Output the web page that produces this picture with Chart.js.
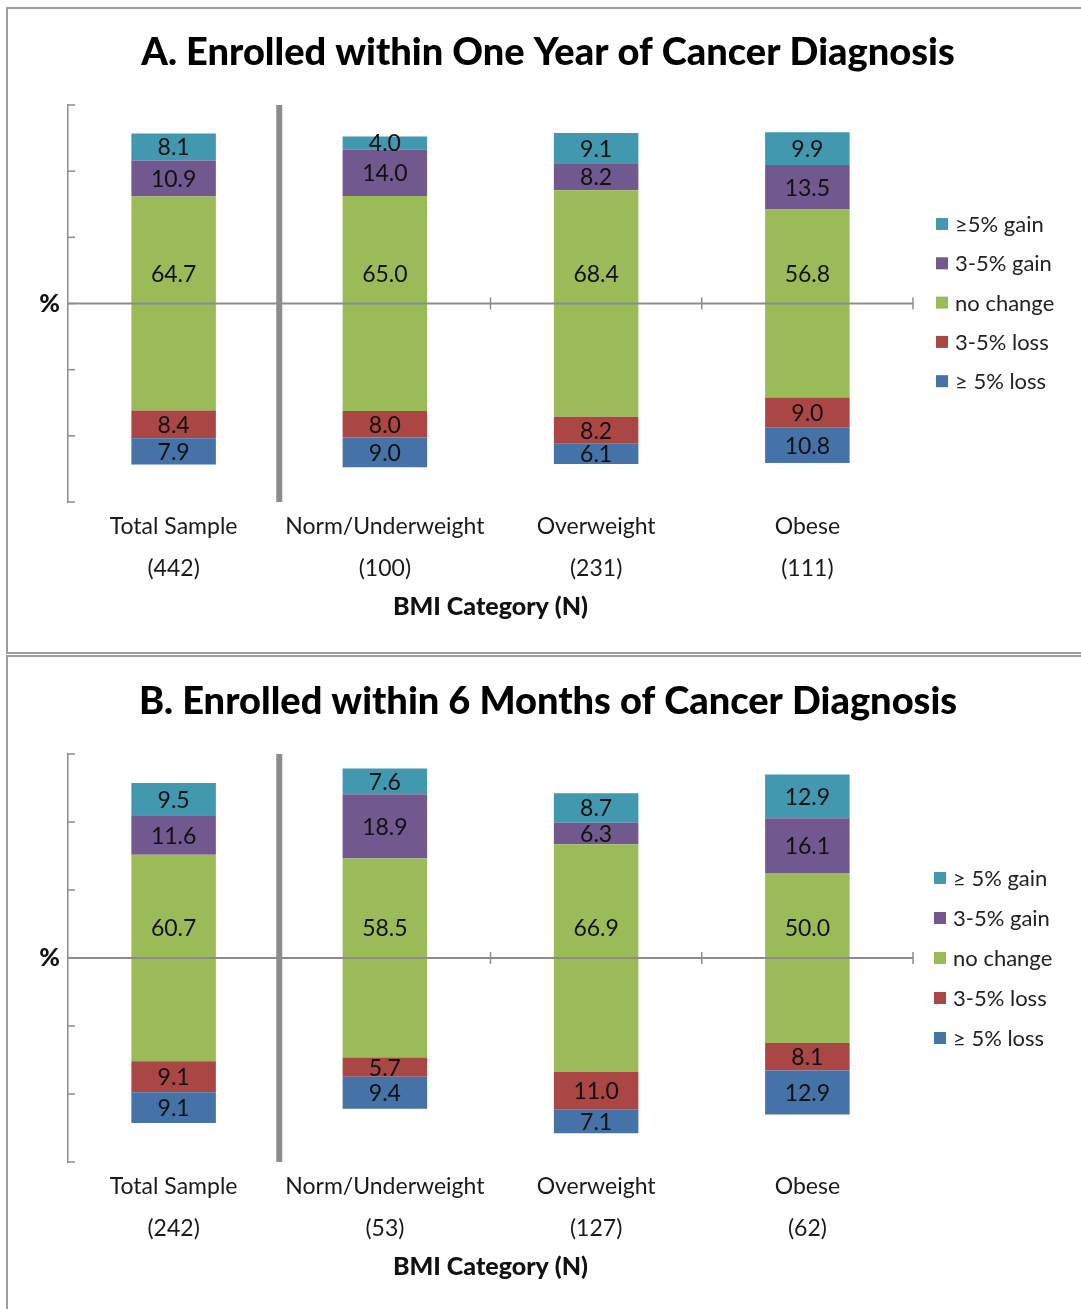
<!DOCTYPE html>
<html>
<head>
<meta charset="utf-8">
<script src="https://cdn.jsdelivr.net/npm/chart.js@4.4.1/dist/chart.umd.min.js"></script>
<style>
  body { margin: 0; background: #fff; width: 1081px; height: 1309px; position: relative; overflow: hidden; font-family: Lato, sans-serif; }
  .panel { position: absolute; left: 6px; width: 1100px; border: 2px solid #9c9c9c; box-sizing: border-box; }
  #panel-a { top: 7px; height: 647px; }
  #panel-b { top: 655px; height: 700px; }
  canvas { position: absolute; left: 0; }
  #chart-a { top: 0; }
  #chart-b { top: 654px; }
</style>
</head>
<body>
<div class="panel" id="panel-a"></div>
<div class="panel" id="panel-b"></div>
<canvas id="chart-a" width="1081" height="654"></canvas>
<canvas id="chart-b" width="1081" height="655"></canvas>
<script>
// categorias e N de cada painel
const categories = ['Total Sample', 'Norm/Underweight', 'Overweight', 'Obese'];
const countsA = ['(442)', '(100)', '(231)', '(111)'];
const countsB = ['(242)', '(53)', '(127)', '(62)'];

// legendas (de cima para baixo)
const legendA = ['≥5% gain', '3-5% gain', 'no change', '3-5% loss', '≥ 5% loss'];
const legendB = ['≥ 5% gain', '3-5% gain', 'no change', '3-5% loss', '≥ 5% loss'];

// A. dentro de um ano do diagnóstico
const gainBigA = [8.1, 4.0, 9.1, 9.9];
const gainSmallA = [10.9, 14.0, 8.2, 13.5];
const noChangeA = [64.7, 65.0, 68.4, 56.8];
const lossSmallA = [8.4, 8.0, 8.2, 9.0];
const lossBigA = [7.9, 9.0, 6.1, 10.8];

// B. dentro de 6 meses do diagnóstico
const gainBigB = [9.5, 7.6, 8.7, 12.9];
const gainSmallB = [11.6, 18.9, 6.3, 16.1];
const noChangeB = [60.7, 58.5, 66.9, 50.0];
const lossSmallB = [9.1, 5.7, 11.0, 8.1];
const lossBigB = [9.1, 9.4, 7.1, 12.9];

const colors = {
    gainBig: '#4198AF',
    gainSmall: '#71588F',
    noChange: '#9BBB59',
    lossSmall: '#AA4643',
    lossBig: '#4572A7'
};

const FONT = 'Lato, sans-serif';

// "no change" fica centrado no zero, perdas para baixo e ganhos para cima
function floatingRanges(noChange, lossSmall, lossBig, gainSmall, gainBig) {
    const half = noChange.map(v => v / 2);
    return {
        lossBig: half.map((h, i) => [-h - lossSmall[i] - lossBig[i], -h - lossSmall[i]]),
        lossSmall: half.map((h, i) => [-h - lossSmall[i], -h]),
        noChange: half.map(h => [-h, h]),
        gainSmall: half.map((h, i) => [h, h + gainSmall[i]]),
        gainBig: half.map((h, i) => [h + gainSmall[i], h + gainSmall[i] + gainBig[i]])
    };
}

const panelDecor = {
    id: 'panelDecor',
    afterDatasetsDraw(chart, args, opts) {
        const { ctx, chartArea: area, scales: { x, y } } = chart;
        const y0 = y.getPixelForValue(0);
        const half = (x.getPixelForValue(1) - x.getPixelForValue(0)) / 2;
        ctx.save();
        ctx.strokeStyle = '#8c8c8c';

        // linha do zero
        ctx.lineWidth = 2;
        ctx.beginPath();
        ctx.moveTo(area.left, y0);
        ctx.lineTo(area.right, y0);
        ctx.stroke();

        // marcas entre categorias
        ctx.lineWidth = 1.5;
        for (let i = 1; i < categories.length; i++) {
            const bx = x.getPixelForValue(i) + half;
            ctx.beginPath();
            ctx.moveTo(bx, y0 - 6);
            ctx.lineTo(bx, y0 + 6);
            ctx.stroke();
        }

        // marcas do eixo y (para dentro)
        y.ticks.forEach(t => {
            const py = y.getPixelForValue(t.value);
            ctx.beginPath();
            ctx.moveTo(area.left, py);
            ctx.lineTo(area.left + 7, py);
            ctx.stroke();
        });

        // separador grosso depois de "Total Sample"
        const sx = x.getPixelForValue(0) + half;
        ctx.lineWidth = 6;
        ctx.beginPath();
        ctx.moveTo(sx, area.top);
        ctx.lineTo(sx, area.bottom);
        ctx.stroke();

        // valores dentro das barras (o do "no change" fica acima da linha do zero)
        ctx.fillStyle = '#111';
        ctx.font = '23px ' + FONT;
        ctx.textAlign = 'center';
        ctx.textBaseline = 'middle';
        chart.data.datasets.forEach((ds, di) => {
            const lift = ds.key === 'noChange' ? -30 : 0;
            chart.getDatasetMeta(di).data.forEach((bar, i) => {
                ctx.fillText(ds.values[i].toFixed(1), bar.x, (bar.y + bar.base) / 2 + 1 + lift);
            });
        });

        // legenda
        ctx.textAlign = 'left';
        ctx.font = '22px ' + FONT;
        const ordered = chart.data.datasets.slice().reverse();
        ordered.forEach((ds, i) => {
            const ly = opts.legendY + i * opts.legendGap;
            ctx.fillStyle = ds.backgroundColor;
            ctx.fillRect(opts.legendX, ly - 6, 12, 12);
            ctx.fillStyle = '#222';
            ctx.fillText(opts.legendNames[i], opts.legendX + 19, ly + 1);
        });

        // título
        ctx.fillStyle = '#000';
        ctx.font = '900 38px ' + FONT;
        ctx.textAlign = 'center';
        ctx.fillText(opts.title, opts.titleX, opts.titleY);
        ctx.restore();
    }
};

function makeChart(id, counts, ranges, values, decor, padTop, padBottom) {
    const order = ['lossBig', 'lossSmall', 'noChange', 'gainSmall', 'gainBig'];
    const datasets = order.map((key, i) => ({
        key: key,
        label: decor.legendNames[4 - i],
        data: ranges[key],
        values: values[key],
        backgroundColor: colors[key],
        borderWidth: 0,
        grouped: false,
        barPercentage: 0.4,
        categoryPercentage: 1
    }));

    return new Chart(document.getElementById(id), {
        type: 'bar',
        data: {
            labels: categories.map((c, i) => [c, counts[i]]),
            datasets: datasets
        },
        plugins: [panelDecor],
        options: {
            responsive: false,
            animation: false,
            layout: { padding: { left: 0, top: padTop, right: 168, bottom: padBottom } },
            plugins: {
                legend: { display: false },
                title: { display: false },
                tooltip: { enabled: false },
                panelDecor: decor
            },
            scales: {
                x: {
                    grid: { display: false },
                    border: { display: false },
                    ticks: {
                        color: '#1a1a1a',
                        font: { family: FONT, size: 23, lineHeight: 42 / 23 },
                        padding: -4,
                        autoSkip: false,
                        maxRotation: 0
                    },
                    title: {
                        display: true,
                        text: 'BMI Category (N)',
                        color: '#111',
                        font: { family: FONT, size: 25, weight: 900, lineHeight: 1.2 },
                        padding: 0
                    },
                    afterFit: s => { s.height = 119.8; }
                },
                y: {
                    min: -60,
                    max: 60,
                    grid: { display: false },
                    border: { display: true, color: '#8c8c8c', width: 1.5 },
                    ticks: {
                        stepSize: 20,
                        padding: 0,
                        color: '#111',
                        font: { family: FONT, size: 25, weight: 900 },
                        callback: v => (v === 0 ? '%' : '')
                    },
                    afterFit: s => { s.width = 68; }
                }
            }
        }
    });
}

makeChart('chart-a', countsA,
    floatingRanges(noChangeA, lossSmallA, lossBigA, gainSmallA, gainBigA),
    { lossBig: lossBigA, lossSmall: lossSmallA, noChange: noChangeA, gainSmall: gainSmallA, gainBig: gainBigA },
    { title: 'A. Enrolled within One Year of Cancer Diagnosis', titleX: 548, titleY: 53,
      legendNames: legendA, legendX: 936, legendY: 224, legendGap: 39.3 },
    105, 32.2);

makeChart('chart-b', countsB,
    floatingRanges(noChangeB, lossSmallB, lossBigB, gainSmallB, gainBigB),
    { lossBig: lossBigB, lossSmall: lossSmallB, noChange: noChangeB, gainSmall: gainSmallB, gainBig: gainBigB },
    { title: 'B. Enrolled within 6 Months of Cancer Diagnosis', titleX: 548, titleY: 48,
      legendNames: legendB, legendX: 934, legendY: 224, legendGap: 40 },
    100, 27.2);
</script>
</body>
</html>
